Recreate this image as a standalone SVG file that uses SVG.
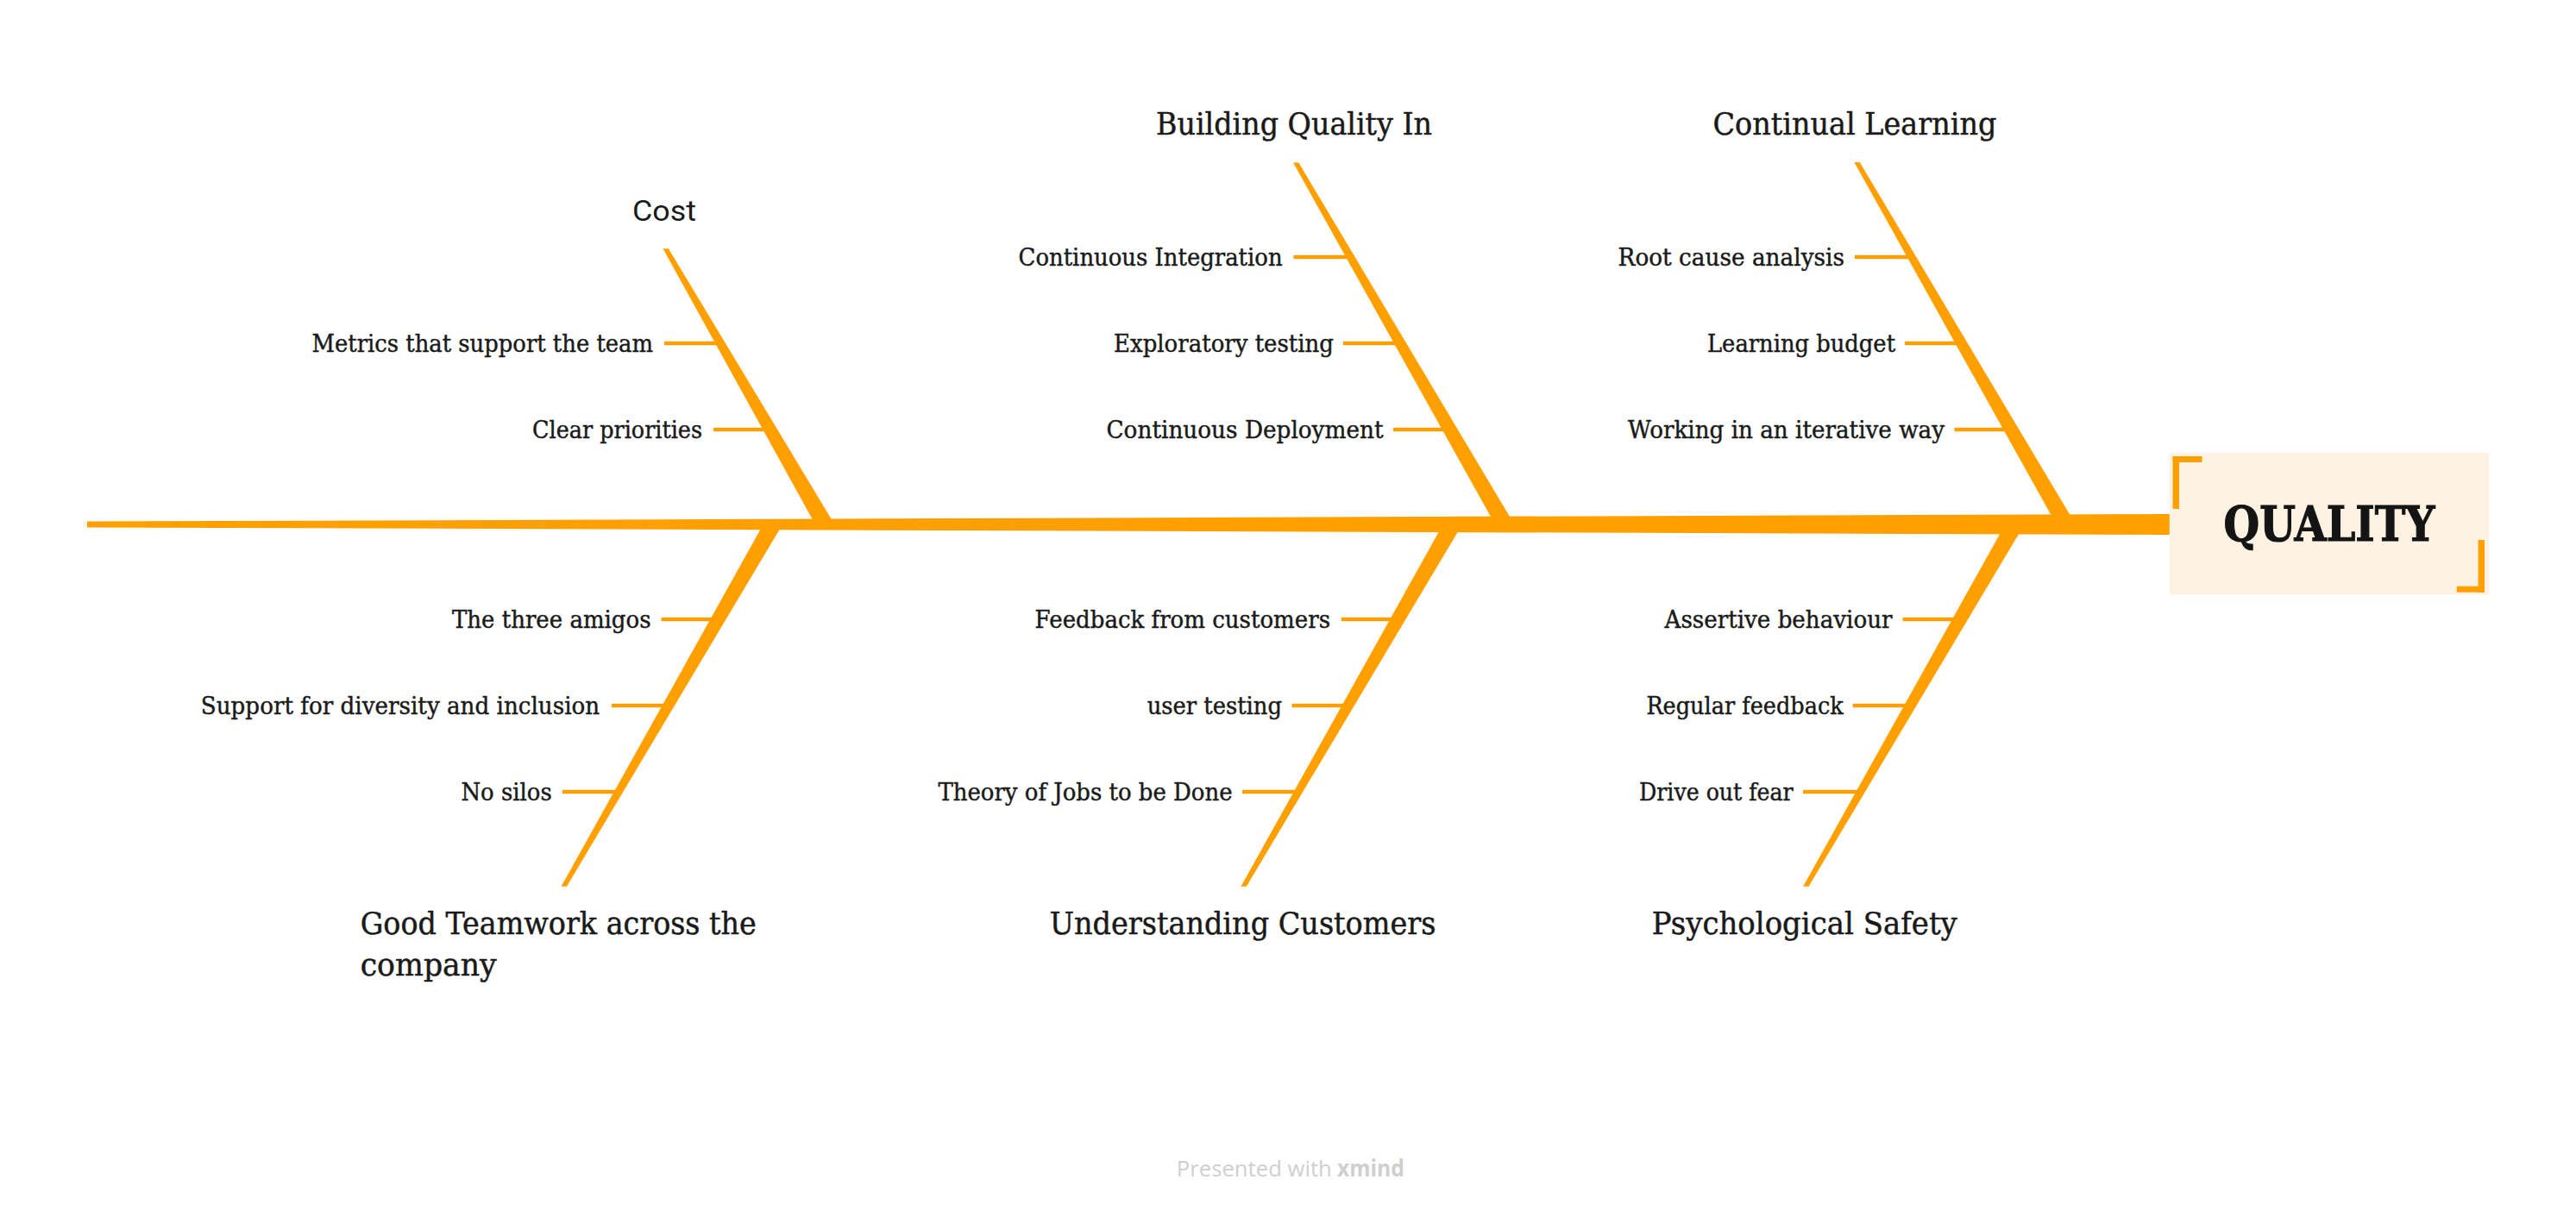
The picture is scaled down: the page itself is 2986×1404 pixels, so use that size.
<svg xmlns="http://www.w3.org/2000/svg" width="2986" height="1404" viewBox="0 0 2986 1404">
<style>
.bg{fill:#ffffff}
.bone{fill:#FFA000}
.sub-line{stroke:#FFA000;stroke-width:4.3;fill:none}
.sub{font-family:"DejaVu Serif",serif;font-size:27px;fill:#1a1a1a;stroke:#1a1a1a;stroke-width:0.45px;text-anchor:end}
.main{font-family:"DejaVu Serif",serif;font-size:35px;fill:#1a1a1a;stroke:#1a1a1a;stroke-width:0.5px;text-anchor:middle}
.main-start{font-family:"DejaVu Serif",serif;font-size:35px;fill:#1a1a1a;stroke:#1a1a1a;stroke-width:0.5px;text-anchor:start}
.cost{font-family:Roboto,"Liberation Sans",sans-serif;font-size:34px;fill:#1a1a1a;text-anchor:middle}
.central-box{fill:#FEF3E2}
.bracket{fill:#FFA000}
.central{font-family:"DejaVu Serif",serif;font-size:56px;font-weight:bold;fill:#141414;stroke:#141414;stroke-width:1.2px;text-anchor:middle}
.footer{font-family:"Open Sans","Noto Sans",sans-serif;font-size:26px;fill:#cfcfcf}
</style>
<rect class="bg" x="0" y="0" width="2986" height="1404"/>

<g id="connectors">
  <polygon id="spine" class="bone" points="101,604.6 2515,596 2515,620 101,611.4"/>
  <polygon class="bone" points="768.5,288.3 774.9,288.3 967.4,608 945,608"/>
  <polygon class="bone" points="1499,188.6 1505.4,188.6 1755.4,608 1733,608"/>
  <polygon class="bone" points="2149.3,188 2155.7,188 2406,608 2383.6,608"/>
  <polygon class="bone" points="884.7,608 907.1,608 656.9,1027.8 650.5,1027.8"/>
  <polygon class="bone" points="1672.6,608 1695,608 1444.8,1027.8 1438.4,1027.8"/>
  <polygon class="bone" points="2324.3,608 2346.7,608 2096.5,1027.8 2090.1,1027.8"/>
  <line class="sub-line" x1="770" y1="398" x2="836" y2="398"/>
  <line class="sub-line" x1="827" y1="498" x2="893" y2="498"/>
  <line class="sub-line" x1="1499.4" y1="298" x2="1565" y2="298"/>
  <line class="sub-line" x1="1557" y1="398" x2="1623" y2="398"/>
  <line class="sub-line" x1="1615" y1="498" x2="1681" y2="498"/>
  <line class="sub-line" x1="2150" y1="298" x2="2216" y2="298"/>
  <line class="sub-line" x1="2208" y1="398" x2="2274" y2="398"/>
  <line class="sub-line" x1="2265.5" y1="498" x2="2331.5" y2="498"/>
  <line class="sub-line" x1="766.6" y1="718" x2="832" y2="718"/>
  <line class="sub-line" x1="709" y1="818" x2="775" y2="818"/>
  <line class="sub-line" x1="651.8" y1="918" x2="717" y2="918"/>
  <line class="sub-line" x1="1554.8" y1="718" x2="1620" y2="718"/>
  <line class="sub-line" x1="1497.4" y1="818" x2="1562.5" y2="818"/>
  <line class="sub-line" x1="1440" y1="918" x2="1505" y2="918"/>
  <line class="sub-line" x1="2205.6" y1="718" x2="2272" y2="718"/>
  <line class="sub-line" x1="2147.6" y1="818" x2="2214" y2="818"/>
  <line class="sub-line" x1="2090" y1="918" x2="2156.5" y2="918"/>
</g>

<g id="node-quality">
  <rect class="central-box" x="2514.8" y="524.8" width="370.7" height="164.6"/>
  <rect class="bracket" x="2518.6" y="529" width="7.4" height="61"/>
  <rect class="bracket" x="2518.6" y="529" width="34" height="7"/>
  <rect class="bracket" x="2872.6" y="626" width="7.4" height="60.7"/>
  <rect class="bracket" x="2847.7" y="679.7" width="32.3" height="7"/>
  <text class="central" x="2700" y="627" textLength="245" lengthAdjust="spacingAndGlyphs">QUALITY</text>
</g>

<g id="node-cost">
  <text class="cost" x="770" y="256" textLength="74" lengthAdjust="spacingAndGlyphs">Cost</text>
</g>
<g id="node-building-quality-in">
  <text class="main" x="1500" y="155.8" textLength="320" lengthAdjust="spacingAndGlyphs">Building Quality In</text>
</g>
<g id="node-continual-learning">
  <text class="main" x="2150" y="155.5" textLength="329" lengthAdjust="spacingAndGlyphs">Continual Learning</text>
</g>
<g id="node-good-teamwork">
  <text class="main-start" x="417.7" y="1083" textLength="459" lengthAdjust="spacingAndGlyphs">Good Teamwork across the</text>
  <text class="main-start" x="417.7" y="1131" textLength="158" lengthAdjust="spacingAndGlyphs">company</text>
</g>
<g id="node-understanding-customers">
  <text class="main" x="1440.6" y="1083" textLength="447.7" lengthAdjust="spacingAndGlyphs">Understanding Customers</text>
</g>
<g id="node-psychological-safety">
  <text class="main" x="2091.8" y="1083" textLength="354" lengthAdjust="spacingAndGlyphs">Psychological Safety</text>
</g>

<g id="node-metrics"><text class="sub" x="757" y="407.7" textLength="395.4" lengthAdjust="spacingAndGlyphs">Metrics that support the team</text></g>
<g id="node-clear-priorities"><text class="sub" x="814" y="507.7" textLength="197" lengthAdjust="spacingAndGlyphs">Clear priorities</text></g>
<g id="node-continuous-integration"><text class="sub" x="1486.6" y="307.7" textLength="306" lengthAdjust="spacingAndGlyphs">Continuous Integration</text></g>
<g id="node-exploratory-testing"><text class="sub" x="1546" y="407.7" textLength="255" lengthAdjust="spacingAndGlyphs">Exploratory testing</text></g>
<g id="node-continuous-deployment"><text class="sub" x="1603.5" y="507.7" textLength="321" lengthAdjust="spacingAndGlyphs">Continuous Deployment</text></g>
<g id="node-root-cause"><text class="sub" x="2138" y="307.7" textLength="262.4" lengthAdjust="spacingAndGlyphs">Root cause analysis</text></g>
<g id="node-learning-budget"><text class="sub" x="2197" y="407.7" textLength="218" lengthAdjust="spacingAndGlyphs">Learning budget</text></g>
<g id="node-iterative"><text class="sub" x="2254" y="507.7" textLength="367" lengthAdjust="spacingAndGlyphs">Working in an iterative way</text></g>
<g id="node-three-amigos"><text class="sub" x="754.5" y="727.7" textLength="230.5" lengthAdjust="spacingAndGlyphs">The three amigos</text></g>
<g id="node-diversity"><text class="sub" x="695.2" y="827.7" textLength="462.4" lengthAdjust="spacingAndGlyphs">Support for diversity and inclusion</text></g>
<g id="node-no-silos"><text class="sub" x="639.7" y="927.7" textLength="105.3" lengthAdjust="spacingAndGlyphs">No silos</text></g>
<g id="node-feedback-customers"><text class="sub" x="1542" y="727.7" textLength="342.4" lengthAdjust="spacingAndGlyphs">Feedback from customers</text></g>
<g id="node-user-testing"><text class="sub" x="1486" y="827.7" textLength="156.3" lengthAdjust="spacingAndGlyphs">user testing</text></g>
<g id="node-jobs-to-be-done"><text class="sub" x="1428.6" y="927.7" textLength="341.2" lengthAdjust="spacingAndGlyphs">Theory of Jobs to be Done</text></g>
<g id="node-assertive"><text class="sub" x="2193.5" y="727.7" textLength="264" lengthAdjust="spacingAndGlyphs">Assertive behaviour</text></g>
<g id="node-regular-feedback"><text class="sub" x="2136.7" y="827.7" textLength="228.3" lengthAdjust="spacingAndGlyphs">Regular feedback</text></g>
<g id="node-drive-out-fear"><text class="sub" x="2078.7" y="927.7" textLength="178.7" lengthAdjust="spacingAndGlyphs">Drive out fear</text></g>

<g id="footer">
  <text class="footer" x="1363.8" y="1364.3" textLength="180" lengthAdjust="spacingAndGlyphs">Presented with</text>
  <text class="footer" x="1550" y="1364.3" font-weight="bold" textLength="78" lengthAdjust="spacingAndGlyphs">xmind</text>
</g>
</svg>
